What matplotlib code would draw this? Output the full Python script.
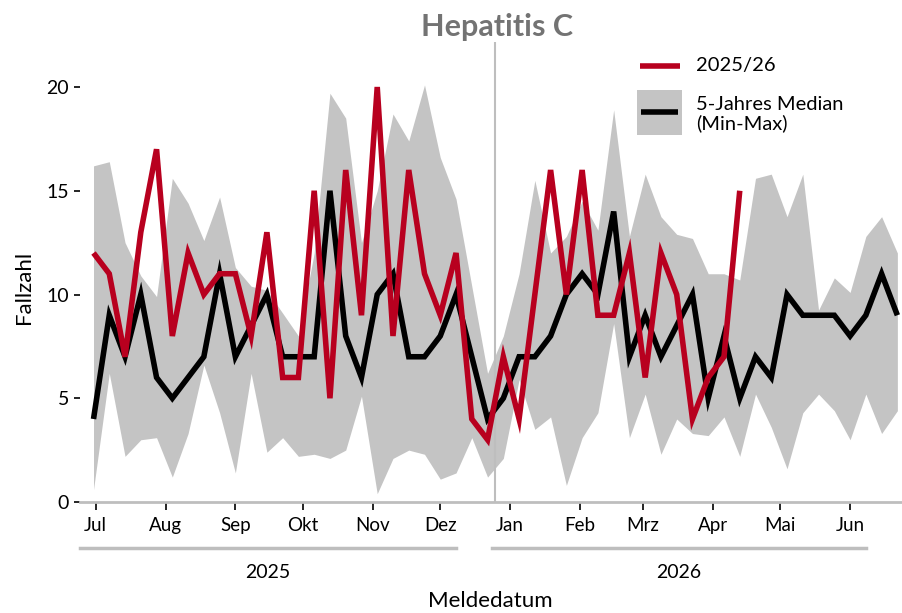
import numpy as np
import pandas as pd
import matplotlib
matplotlib.use("Agg")
import matplotlib.pyplot as plt
import matplotlib.transforms as mtransforms
from matplotlib.lines import Line2D
from matplotlib.patches import Rectangle

# =========================
# Data
# =========================

weeks = pd.date_range("2025-06-30", periods=52, freq="7D")

cases_2025_26 = [12, 11, 7, 13, 17, 8, 12, 10, 11, 11, 8, 13, 6, 6, 15, 5,
                 16, 9, 20, 8, 16, 11, 9, 12, 4, 3, 7, 4, 10, 16, 10, 16,
                 9, 9, 12, 6, 12, 10, 4, 6, 7, 15]

median_5y = [4, 9, 7, 10, 6, 5, 6, 7, 11, 7, 8.5, 10, 7, 7, 7, 15,
             8, 6, 10, 11, 7, 7, 8, 10, 7, 4, 5, 7, 7, 8, 10, 11,
             10, 14, 7, 9, 7, 8.5, 10, 5, 8, 5, 7, 6, 10, 9,
             9, 9, 8, 9, 11, 9]

max_5y = [16.2, 16.4, 12.5, 10.9, 9.9, 15.6, 14.4, 12.6, 14.7, 11.3, 10.4, 10.2,
          9.1, 8.0, 12.0, 19.7, 18.5, 12.5, 15.0, 18.7, 17.4, 20.1, 16.6, 14.6,
          10.4, 6.2, 8.0, 11.0, 15.5, 12.0, 12.8, 14.5, 13.1, 18.9, 12.8, 15.8,
          13.75, 12.9, 12.7, 11.0, 11.0, 10.7, 15.6, 15.8, 13.75, 15.8, 9.25, 10.8,
          10.1, 12.8, 13.75, 12.0]

min_5y = [0.6, 6.2, 2.2, 3.0, 3.1, 1.2, 3.3, 6.6, 4.3, 1.4, 6.2, 2.4,
          3.1, 2.2, 2.3, 2.1, 2.5, 5.1, 0.4, 2.1, 2.5, 2.3, 1.1, 1.4,
          3.1, 1.2, 2.1, 5.9, 3.5, 4.1, 0.8, 3.1, 4.3, 8.6, 3.1, 5.2,
          2.3, 4.0, 3.3, 3.2, 4.1, 2.2, 5.2, 3.6, 1.6, 4.3, 5.2, 4.4,
          3.0, 5.2, 3.3, 4.4]

month_ticks = pd.date_range("2025-07-01", periods=12, freq="MS")
month_labels = ["Jul", "Aug", "Sep", "Okt", "Nov", "Dez",
                "Jan", "Feb", "Mrz", "Apr", "Mai", "Jun"]
year_labels = ["2025", "2026"]

# =========================
# Style
# =========================

RED = "#B8001F"
BAND = "#C4C4C4"
GUIDE = "#BEBEBE"
TITLE_GREY = "#737373"
plt.rcParams["font.family"] = ["Lato", "DejaVu Sans"]

W, H = 903, 613


def fx(px):
    return px / W


def fy(py):
    return 1 - py / H


fig = plt.figure(figsize=(W / 100, H / 100), dpi=100)
ax_top, ax_bot = 42, 502
ax = fig.add_axes([fx(80), fy(ax_bot), fx(903) - fx(80), fy(ax_top) - fy(ax_bot)])

ax.fill_between(weeks, min_5y, max_5y, color=BAND, linewidth=0, zorder=1)
ax.plot(weeks, median_5y, color="black", linewidth=4, zorder=3,
        solid_joinstyle="miter", solid_capstyle="butt")
ax.plot(weeks[:len(cases_2025_26)], cases_2025_26, color=RED, linewidth=4, zorder=4,
        solid_joinstyle="miter", solid_capstyle="butt")

# season separator between week 52 and week 1
sep = weeks[25] + (weeks[26] - weeks[25]) / 2
ax.axvline(sep, color=GUIDE, linewidth=1.5, zorder=2)

ax.set_xlim(weeks[0] - pd.Timedelta(days=6), weeks[-1] + pd.Timedelta(days=2.5))
ax.set_ylim(0, (ax_bot - ax_top) / 20.75)

ax.set_yticks([0, 5, 10, 15, 20])
ax.set_xticks(month_ticks)
ax.set_xticklabels(month_labels)
ax.tick_params(axis="y", length=4, width=1.2, color="black", labelsize=14, pad=4)
ax.tick_params(axis="x", length=6, width=1.2, color="black", labelsize=13.5, pad=5)

for side in ["top", "right", "left"]:
    ax.spines[side].set_visible(False)
ax.spines["bottom"].set_color(GUIDE)
ax.spines["bottom"].set_linewidth(2)

fig.text(fx(24), fy(287), "Fallzahl", rotation=90, ha="center", va="center", fontsize=16)
fig.text(fx(490), fy(601), "Meldedatum", ha="center", va="center", fontsize=16)
fig.text(fx(497), fy(27), "Hepatitis C", ha="center", va="center", fontsize=22,
         fontweight="bold", color=TITLE_GREY)

# year brackets under month labels
trans = mtransforms.blended_transform_factory(ax.transData, fig.transFigure)
brackets = [(weeks[0] - pd.Timedelta(days=6), pd.Timestamp("2025-12-08")),
            (pd.Timestamp("2025-12-24"), pd.Timestamp("2026-06-08"))]
for (x0, x1), lab in zip(brackets, year_labels):
    ax.add_line(Line2D([x0, x1], [fy(548), fy(548)], transform=trans, color=GUIDE,
                       linewidth=2.5, clip_on=False))
    ax.text(x0 + (x1 - x0) / 2, fy(572), lab, transform=trans, ha="center", va="center",
            fontsize=14)

# legend drawn by hand (tall band swatch)
fig.add_artist(Line2D([fx(640), fx(680)], [fy(66), fy(66)], color=RED, linewidth=4,
                      solid_capstyle="butt"))
fig.text(fx(696), fy(66), "2025/26", ha="left", va="center", fontsize=14.5)
fig.add_artist(Rectangle((fx(637), fy(135)), fx(682) - fx(637), fy(90) - fy(135),
                         color=BAND, linewidth=0))
fig.add_artist(Line2D([fx(641), fx(678)], [fy(112), fy(112)], color="black", linewidth=4,
                      solid_capstyle="butt"))
fig.text(fx(696), fy(114), "5-Jahres Median\n(Min-Max)", ha="left", va="center",
         fontsize=14.5, linespacing=1.05)

fig.savefig("out.png", dpi=100)
